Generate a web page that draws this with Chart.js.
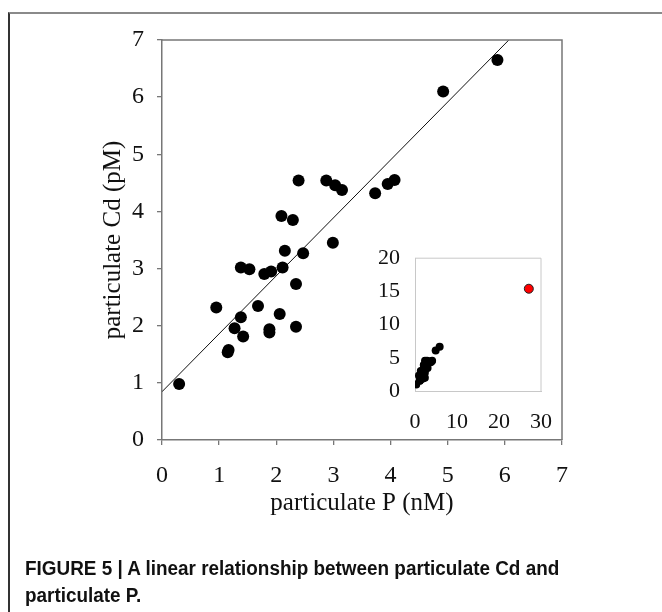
<!DOCTYPE html>
<html>
<head>
<meta charset="utf-8">
<script src="https://cdn.jsdelivr.net/npm/chart.js@4.4.1/dist/chart.umd.min.js"></script>
<style>
  html, body { margin: 0; padding: 0; background: #fff; }
  body { width: 662px; height: 612px; position: relative; overflow: hidden; }
  #frame { position: absolute; left: 8px; top: 12px; width: 660px; height: 610px;
           border-top: 2px solid #8a8a8a; border-left: 2px solid #333; }
  #mainWrap { position: absolute; left: 0; top: 0; width: 662px; height: 612px; }
  #insetWrap { position: absolute; left: 340px; top: 230px; width: 230px; height: 210px; }
  #caption { position: absolute; left: 25px; top: 555px; width: 680px;
             font-family: "Liberation Sans Narrow", "Arial Narrow", "Liberation Sans", sans-serif;
             font-weight: bold; font-size: 20px; line-height: 27px; color: #111;
             transform: scaleX(0.945); transform-origin: 0 0; white-space: nowrap; }
</style>
</head>
<body>
<div id="frame"></div>
<div id="mainWrap"><canvas id="main" width="662" height="612"></canvas></div>
<div id="insetWrap"><canvas id="inset" width="230" height="210"></canvas></div>
<div id="caption">FIGURE 5 | A linear relationship between particulate Cd and<br>particulate P.</div>
<script>
// ---- data ----
const particulateP = [2.39, 2.875, 3.03, 3.15, 3.73, 3.95, 4.07, 2.09, 2.29, 2.99, 2.15, 2.47,
  1.38, 1.53, 1.79, 1.91, 2.11, 2.345, 0.95, 1.68, 1.38, 2.06, 1.27, 1.42, 1.88, 1.88,
  2.345, 1.165, 1.15, 0.30, 5.87, 4.92];
const particulateCd = [4.54, 4.54, 4.46, 4.375, 4.32, 4.48, 4.55, 3.92, 3.85, 3.45, 3.31, 3.27,
  3.02, 2.99, 2.905, 2.95, 3.02, 2.73, 2.32, 2.345, 2.15, 2.205, 1.955, 1.81, 1.94, 1.88,
  1.98, 1.575, 1.535, 0.98, 6.65, 6.10];
const fitX = [0, 6.07];
const fitY = [0.845, 7];
const outlierP = [27.1];
const outlierCd = [15.4];
const mainTicks = [0, 1, 2, 3, 4, 5, 6, 7];
const insetXTicks = [0, 10, 20, 30];
const insetYTicks = [0, 5, 10, 15, 20];
const xTitle = 'particulate P (nM)';
const yTitle = 'particulate Cd (pM)';

const toPts = (xs, ys) => xs.map((x, i) => ({ x: x, y: ys[i] }));

const boxPlugin = (color, width) => ({
  id: 'box',
  afterDraw(chart) {
    const a = chart.chartArea, ctx = chart.ctx;
    ctx.save();
    ctx.strokeStyle = color; ctx.lineWidth = width;
    ctx.beginPath();
    ctx.moveTo(a.left, a.top); ctx.lineTo(a.right, a.top); ctx.lineTo(a.right, a.bottom);
    ctx.stroke();
    ctx.restore();
  }
});

const serif = '"Liberation Serif", "Times New Roman", serif';

new Chart(document.getElementById('main'), {
  type: 'scatter',
  data: {
    datasets: [
      { data: toPts(particulateP, particulateCd), backgroundColor: '#000', borderWidth: 0,
        pointRadius: 6, pointHoverRadius: 6, order: 1 },
      { type: 'line', data: toPts(fitX, fitY), borderColor: '#111', borderWidth: 1,
        pointRadius: 0, fill: false, order: 2 }
    ]
  },
  options: {
    responsive: false, animation: false,
    layout: { padding: { top: 40, right: 100, left: 0, bottom: 0 } },
    plugins: { legend: { display: false }, tooltip: { enabled: false } },
    scales: {
      x: {
        type: 'linear', min: 0, max: 7,
        afterBuildTicks: s => { s.ticks = mainTicks.map(v => ({ value: v })); },
        afterFit: s => { s.height = 172; },
        grid: { drawOnChartArea: false, tickLength: 5, color: '#777', lineWidth: 1.3 },
        border: { color: '#777', width: 1.5 },
        ticks: { color: '#111', padding: 16, font: { family: serif, size: 24 } },
        title: { display: true, text: xTitle, color: '#111', font: { family: serif, size: 25 },
                 padding: { top: 0, bottom: 94 } }
      },
      y: {
        type: 'linear', min: 0, max: 7,
        afterBuildTicks: s => { s.ticks = mainTicks.map(v => ({ value: v })); },
        afterFit: s => { s.width = 162; },
        grid: { drawOnChartArea: false, tickLength: 5, color: '#777', lineWidth: 1.3 },
        border: { color: '#777', width: 1.5 },
        ticks: { color: '#111', padding: 13, font: { family: serif, size: 24 } },
        title: { display: true, text: yTitle, color: '#111', font: { family: serif, size: 25 },
                 padding: { top: 98, bottom: 0 } }
      }
    }
  },
  plugins: [boxPlugin('#777', 1.5)]
});

new Chart(document.getElementById('inset'), {
  type: 'scatter',
  data: {
    datasets: [
      { data: toPts(particulateP, particulateCd), backgroundColor: '#000', borderWidth: 0,
        pointRadius: 4, pointHoverRadius: 4 },
      { data: toPts(outlierP, outlierCd), backgroundColor: '#ff0000', borderColor: '#222',
        borderWidth: 1, pointRadius: 4.5, pointHoverRadius: 4.5 }
    ]
  },
  options: {
    responsive: false, animation: false,
    layout: { padding: { top: 28, right: 21, left: 0, bottom: 0 } },
    plugins: { legend: { display: false }, tooltip: { enabled: false } },
    scales: {
      x: {
        type: 'linear', min: 0, max: 30,
        afterBuildTicks: s => { s.ticks = insetXTicks.map(v => ({ value: v })); },
        afterFit: s => { s.height = 49; },
        grid: { drawOnChartArea: false, drawTicks: false, color: '#c8c8c8' },
        border: { color: '#c8c8c8', width: 1 },
        ticks: { color: '#111', padding: 18, font: { family: serif, size: 22 } }
      },
      y: {
        type: 'linear', min: 0, max: 20,
        afterBuildTicks: s => { s.ticks = insetYTicks.map(v => ({ value: v })); },
        afterFit: s => { s.width = 75; },
        grid: { drawOnChartArea: false, drawTicks: false, color: '#c8c8c8' },
        border: { color: '#c8c8c8', width: 1 },
        ticks: { color: '#111', padding: 15, font: { family: serif, size: 22 } }
      }
    }
  },
  plugins: [boxPlugin('#c8c8c8', 1)]
});
</script>
</body>
</html>
